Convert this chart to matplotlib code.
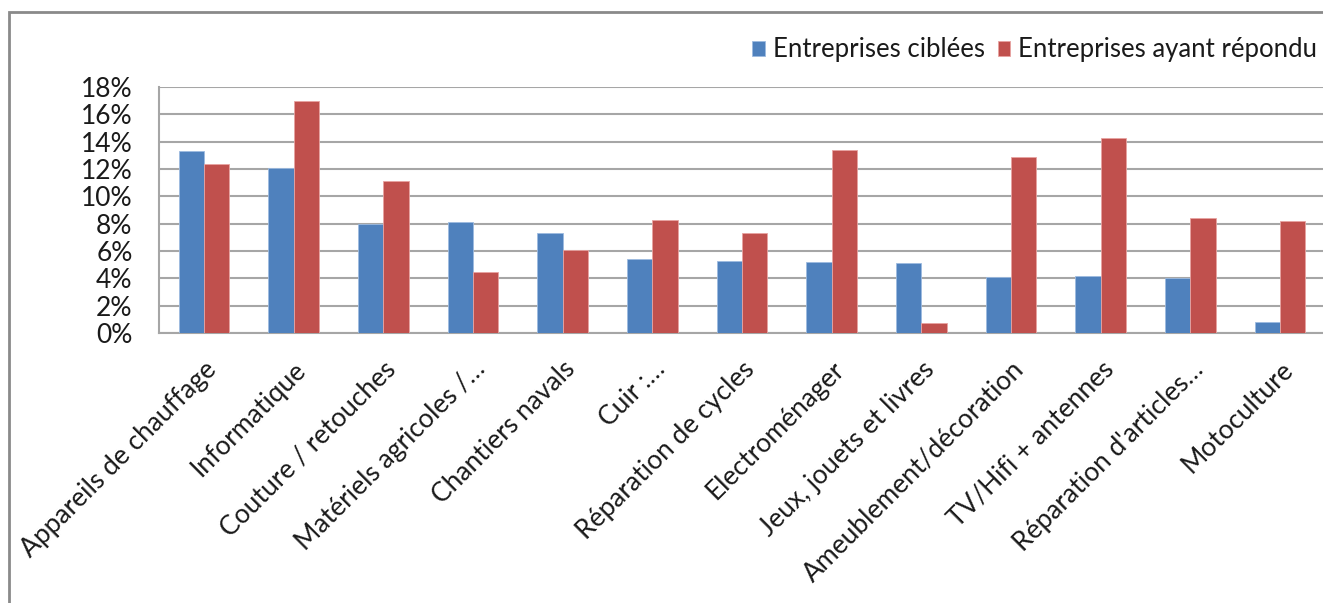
import matplotlib
matplotlib.use("Agg")
import matplotlib.pyplot as plt
import numpy as np
from matplotlib.patches import Rectangle
from matplotlib.ticker import FuncFormatter, MultipleLocator

categories = [
    "Appareils de chauffage", "Informatique", "Couture / retouches",
    "Matériels agricoles /…", "Chantiers navals", "Cuir :…",
    "Réparation de cycles", "Electroménager", "Jeux, jouets et livres",
    "Ameublement/décoration", "TV/Hifi + antennes", "Réparation d'articles…",
    "Motoculture",
]
ciblees = [13.3, 12.1, 8.0, 8.1, 7.3, 5.4, 5.3, 5.2, 5.1, 4.1, 4.2, 4.0, 0.8]
repondu = [12.4, 17.0, 11.1, 4.5, 6.1, 8.3, 7.3, 13.4, 0.7, 12.9, 14.3, 8.4, 8.2]
series_names = ["Entreprises ciblées", "Entreprises ayant répondu"]

plt.rcParams['font.family'] = ['Lato', 'DejaVu Sans']

W, H = 1323, 603
fig = plt.figure(figsize=(W / 100, H / 100), dpi=100)

# outer chart frame (cut off on the right and bottom)
fig.patches.append(Rectangle((9 / W, -0.1), 1.2, 1 - 12 / H + 0.1,
                             transform=fig.transFigure, fill=False,
                             edgecolor="#8a8a8a", linewidth=2))

ax = fig.add_axes([159 / W, 1 - 333 / H, (1325 - 159) / W, (333 - 87) / H])

x = np.arange(len(categories))
bw = 0.282
ax.bar(x - bw / 2, ciblees, bw, color="#4F81BD", edgecolor="#9dbbe0", linewidth=0.6,
       label=series_names[0], zorder=3)
ax.bar(x + bw / 2, repondu, bw, color="#C0504D", edgecolor="#e8a3a1", linewidth=0.6,
       label=series_names[1], zorder=3)

ax.set_xlim(-0.5, len(categories) - 0.5)
ax.set_ylim(0, 18)
ax.yaxis.set_major_locator(MultipleLocator(2))
ax.yaxis.set_major_formatter(FuncFormatter(lambda v, p: f"{v:.0f}%"))
ax.grid(axis="y", color="#a6a6a6", linewidth=1.5, zorder=0)
for s in ["top", "right"]:
    ax.spines[s].set_visible(False)
for s in ["left", "bottom"]:
    ax.spines[s].set_color("#a6a6a6")
    ax.spines[s].set_linewidth(1.5)
ax.tick_params(axis="y", length=0, labelsize=19, pad=19, colors="#1a1a1a")
ax.tick_params(axis="x", length=0, pad=17)
ax.set_xticks(x)
ax.set_xticklabels(categories, rotation=45, ha="right", va="top",
                   rotation_mode="anchor", fontsize=19, color="#1a1a1a")

fig.legend(loc="center left", bbox_to_anchor=(729 / W, 1 - 50 / H), ncol=2,
           frameon=False, fontsize=18.5, handlelength=0.5, handleheight=0.55,
           handletextpad=0.3, columnspacing=0.5, labelcolor="#1a1a1a")

fig.savefig("out.png", dpi=100)
